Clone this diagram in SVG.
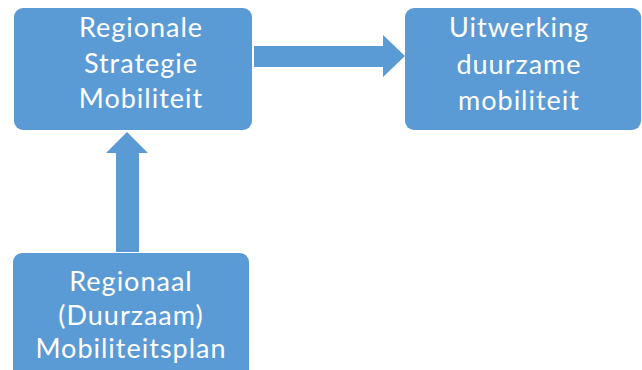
<svg xmlns="http://www.w3.org/2000/svg" width="642" height="370" viewBox="0 0 642 370">
<style>
.box{fill:#5b9bd5;}
.arrow{fill:#5b9bd5;}
.t{font-family:Lato,"Open Sans","Liberation Sans",sans-serif;font-size:27px;letter-spacing:1px;fill:#ffffff;text-anchor:middle;}
</style>
<rect width="642" height="370" fill="#ffffff"/>
<g id="connectors">
<polygon class="arrow" points="254,46 383,46 383,35 405,56 383,77 383,67 254,67"/>
<polygon class="arrow" points="116,252 116,153 106,153 127,132 148,153 139,153 139,252"/>
</g>
<g id="node-strategie">
<rect class="box" x="14" y="8" width="238" height="122" rx="9"/>
<text class="t" x="141" y="37">Regionale</text>
<text class="t" x="141" y="73">Strategie</text>
<text class="t" x="141" y="108">Mobiliteit</text>
</g>
<g id="node-uitwerking">
<rect class="box" x="405" y="8" width="236" height="122" rx="9"/>
<text class="t" x="519" y="37">Uitwerking</text>
<text class="t" x="519" y="74">duurzame</text>
<text class="t" x="519" y="110">mobiliteit</text>
</g>
<g id="node-plan">
<rect class="box" x="13" y="253" width="236" height="130" rx="9"/>
<text class="t" x="131" y="291">Regionaal</text>
<text class="t" x="131" y="325">(Duurzaam)</text>
<text class="t" x="131" y="358">Mobiliteitsplan</text>
</g>
</svg>
